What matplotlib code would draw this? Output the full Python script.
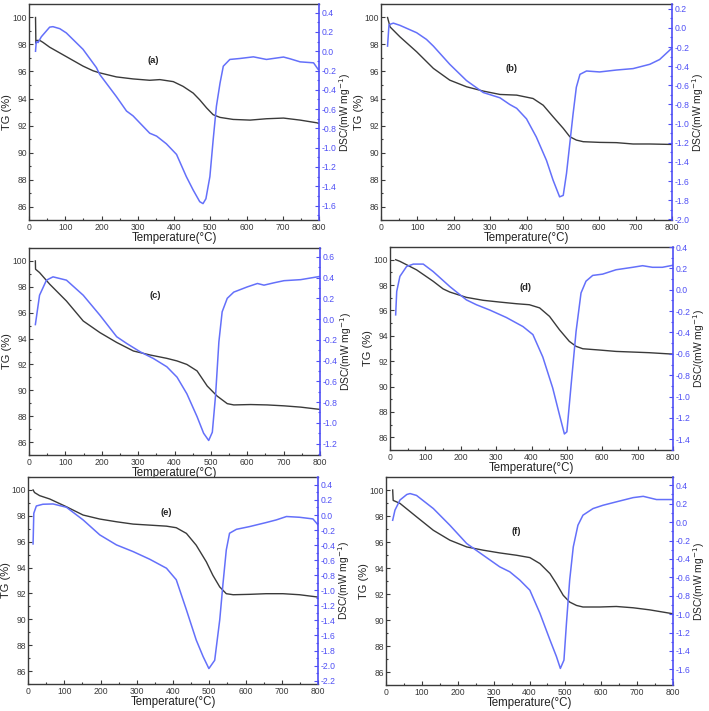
import matplotlib
matplotlib.use("Agg")
import matplotlib.pyplot as plt
from matplotlib.ticker import MultipleLocator, FormatStrFormatter

plt.rcParams['font.family'] = ['Liberation Sans', 'DejaVu Sans']
plt.rcParams['axes.unicode_minus'] = False

# ---------------- data ----------------
# Panel (a)
tg_a_T = [18, 19, 22, 30, 39, 57, 103, 149, 177, 195, 241, 287, 333, 361, 398, 425, 453, 471, 490, 508, 527, 563, 610, 655, 702, 748, 794, 800]
tg_a_v = [100.0, 98.1, 98.3, 98.3, 98.15, 97.8, 97.1, 96.4, 96.05, 95.9, 95.6, 95.45, 95.35, 95.4, 95.25, 94.9, 94.4, 93.9, 93.3, 92.8, 92.6, 92.45, 92.4, 92.5, 92.55, 92.4, 92.2, 92.15]
dsc_a_T = [18, 20, 25, 34, 57, 66, 85, 103, 149, 186, 195, 241, 269, 287, 333, 352, 379, 407, 434, 453, 471, 480, 488, 499, 508, 517, 527, 536, 554, 582, 619, 655, 702, 720, 748, 785, 798]
dsc_a_v = [0.0, 0.1, 0.09, 0.15, 0.25, 0.255, 0.234, 0.19, 0.02, -0.17, -0.24, -0.47, -0.62, -0.67, -0.85, -0.88, -0.96, -1.07, -1.30, -1.44, -1.56, -1.58, -1.53, -1.30, -0.92, -0.57, -0.33, -0.155, -0.085, -0.075, -0.058, -0.085, -0.06, -0.078, -0.11, -0.12, -0.19]

# Panel (b)
tg_b_T = [18, 25, 52, 98, 144, 189, 235, 281, 327, 373, 418, 446, 473, 501, 519, 537, 556, 601, 647, 693, 739, 794, 800]
tg_b_v = [100.0, 99.3, 98.57, 97.46, 96.23, 95.36, 94.87, 94.55, 94.3, 94.25, 94.0, 93.5, 92.65, 91.79, 91.17, 90.92, 90.8, 90.75, 90.73, 90.63, 90.63, 90.6, 90.6]
dsc_b_T = [18, 22, 34, 52, 98, 125, 144, 189, 235, 281, 327, 354, 373, 400, 427, 455, 473, 491, 501, 510, 519, 528, 537, 547, 565, 601, 647, 693, 739, 766, 800]
dsc_b_v = [-0.19, 0.034, 0.05, 0.027, -0.05, -0.12, -0.19, -0.38, -0.55, -0.675, -0.73, -0.80, -0.84, -0.95, -1.14, -1.385, -1.59, -1.765, -1.75, -1.52, -1.21, -0.90, -0.62, -0.485, -0.45, -0.46, -0.44, -0.425, -0.38, -0.33, -0.21]

# Panel (c)
tg_c_T = [17.5, 18, 29, 57, 103, 149, 195, 241, 287, 333, 379, 407, 434, 462, 490, 517, 545, 563, 609, 655, 701, 747, 798]
tg_c_v = [100.0, 99.36, 99.1, 98.2, 96.9, 95.36, 94.46, 93.7, 93.04, 92.73, 92.47, 92.27, 92.0, 91.5, 90.33, 89.56, 88.97, 88.87, 88.9, 88.87, 88.8, 88.7, 88.53]
dsc_c_T = [17.5, 29, 48, 66, 103, 149, 195, 241, 269, 306, 342, 379, 407, 434, 462, 480, 494, 504, 513, 522, 531, 545, 563, 600, 628, 646, 674, 701, 747, 798]
dsc_c_v = [-0.053, 0.23, 0.375, 0.407, 0.375, 0.23, 0.037, -0.17, -0.236, -0.316, -0.38, -0.46, -0.56, -0.72, -0.94, -1.10, -1.17, -1.09, -0.73, -0.22, 0.07, 0.2, 0.26, 0.31, 0.343, 0.327, 0.35, 0.37, 0.38, 0.41]

# Panel (d)
tg_d_T = [16, 28, 75, 122, 150, 169, 216, 263, 310, 357, 394, 423, 451, 479, 507, 526, 545, 592, 639, 686, 732, 798]
tg_d_v = [100.0, 99.87, 99.2, 98.3, 97.7, 97.45, 97.03, 96.8, 96.66, 96.53, 96.45, 96.2, 95.53, 94.48, 93.56, 93.17, 92.98, 92.88, 92.77, 92.72, 92.67, 92.56]
dsc_d_T = [16, 19, 28, 47, 66, 94, 122, 169, 216, 244, 282, 329, 376, 404, 432, 460, 479, 493, 500, 512, 526, 540, 554, 573, 601, 639, 686, 714, 742, 770, 798]
dsc_d_v = [-0.235, -0.016, 0.125, 0.218, 0.24, 0.24, 0.17, 0.03, -0.095, -0.14, -0.19, -0.26, -0.345, -0.42, -0.63, -0.92, -1.17, -1.35, -1.33, -0.89, -0.39, -0.03, 0.08, 0.134, 0.146, 0.187, 0.21, 0.225, 0.21, 0.21, 0.228]

# Panel (e)
tg_e_T = [14, 18, 32, 60, 106, 152, 198, 244, 290, 336, 382, 409, 437, 464, 492, 510, 529, 547, 566, 611, 657, 703, 749, 800]
tg_e_v = [100.0, 99.8, 99.56, 99.3, 98.7, 98.06, 97.75, 97.54, 97.36, 97.28, 97.2, 97.08, 96.64, 95.73, 94.44, 93.4, 92.5, 91.98, 91.9, 91.93, 91.98, 91.98, 91.9, 91.72]
dsc_e_T = [14, 16, 23, 41, 69, 106, 152, 198, 244, 290, 336, 382, 409, 437, 464, 483, 499, 515, 529, 538, 547, 556, 575, 611, 657, 685, 713, 749, 786, 800]
dsc_e_v = [-0.384, 0.023, 0.12, 0.143, 0.147, 0.103, -0.065, -0.264, -0.397, -0.486, -0.588, -0.707, -0.86, -1.26, -1.66, -1.88, -2.04, -1.93, -1.39, -0.907, -0.464, -0.242, -0.19, -0.154, -0.10, -0.065, -0.02, -0.03, -0.052, -0.13]

# Panel (f)
tg_f_T = [18.6, 20, 39, 85, 132, 178, 225, 271, 317, 364, 401, 429, 457, 475, 494, 512, 531, 549, 596, 642, 689, 735, 800]
tg_f_v = [100.0, 99.2, 98.97, 97.94, 96.9, 96.14, 95.62, 95.37, 95.16, 94.98, 94.8, 94.34, 93.57, 92.8, 91.9, 91.38, 91.12, 91.0, 91.0, 91.04, 90.94, 90.78, 90.48]
dsc_f_T = [18.6, 25, 39, 58, 67, 85, 132, 178, 225, 271, 317, 345, 373, 401, 429, 457, 475, 486, 496, 503, 512, 522, 535, 549, 577, 605, 642, 689, 717, 754, 800]
dsc_f_v = [0.02, 0.13, 0.24, 0.30, 0.31, 0.29, 0.147, -0.034, -0.233, -0.36, -0.486, -0.54, -0.63, -0.74, -0.99, -1.28, -1.46, -1.59, -1.50, -1.10, -0.63, -0.27, -0.034, 0.075, 0.147, 0.183, 0.22, 0.266, 0.28, 0.245, 0.245]

panel_labels = ['(a)', '(b)', '(c)', '(d)', '(e)', '(f)']
dsc_limits = [(-1.75, 0.49), (-2.007, 0.25), (-1.31, 0.685), (-1.50, 0.40), (-2.245, 0.505), (-1.77, 0.49)]
tg_limits = (85, 101)

# ---------------- layout ----------------
W, H = 709, 711
fig = plt.figure(figsize=(W / 100, H / 100), dpi=100)

# pixel boxes: left, top, right, bottom
boxes = [(29, 4, 319, 220), (381, 4, 672, 220),
         (29, 248, 320, 455), (390, 247, 673, 450),
         (28, 477, 318, 684), (386, 477, 673, 685)]
label_pos = [(0.43, 0.74), (0.45, 0.70), (0.435, 0.77), (0.48, 0.80), (0.477, 0.83), (0.455, 0.74)]

tg_data = [(tg_a_T, tg_a_v), (tg_b_T, tg_b_v), (tg_c_T, tg_c_v), (tg_d_T, tg_d_v), (tg_e_T, tg_e_v), (tg_f_T, tg_f_v)]
dsc_data = [(dsc_a_T, dsc_a_v), (dsc_b_T, dsc_b_v), (dsc_c_T, dsc_c_v), (dsc_d_T, dsc_d_v), (dsc_e_T, dsc_e_v), (dsc_f_T, dsc_f_v)]

dark = '#3a3a3a'
blue_line = '#6470fa'
blue_axis = '#4f4ff5'

for i in range(6):
    l, t, r, b = boxes[i]
    ax = fig.add_axes([l / W, 1 - b / H, (r - l) / W, (b - t) / H])
    T, v = tg_data[i]
    ax.plot(T, v, color=dark, lw=1.0)
    ax.set_xlim(0, 800)
    ax.set_ylim(*tg_limits)
    ax.xaxis.set_major_locator(MultipleLocator(100))
    ax.xaxis.set_minor_locator(MultipleLocator(50))
    ax.yaxis.set_major_locator(MultipleLocator(2))
    ax.yaxis.set_minor_locator(MultipleLocator(1))
    ax.tick_params(which='both', direction='in', colors=dark, labelsize=6.2, pad=2, width=0.8)
    ax.tick_params(axis='y', which='both', pad=1.5)
    ax.tick_params(which='major', length=3)
    ax.tick_params(which='minor', length=1.6)
    ax.tick_params(axis='y', which='both', right=False)
    ax.tick_params(axis='x', which='both', top=False)
    for s in ['left', 'bottom', 'top']:
        ax.spines[s].set_color(dark)
        ax.spines[s].set_linewidth(1.0)
    ax.spines['right'].set_visible(False)
    ax.set_xlabel('Temperature(°C)', fontsize=8.3, color='#222222', labelpad=0)
    ax.set_ylabel('TG (%)', fontsize=8, color='#222222', labelpad=0)
    ax.text(label_pos[i][0], label_pos[i][1], panel_labels[i], transform=ax.transAxes,
            fontsize=6.8, fontweight='bold', ha='center', va='center', color='#222222')

    ax2 = ax.twinx()
    T2, v2 = dsc_data[i]
    ax2.plot(T2, v2, color=blue_line, lw=1.1)
    ax2.set_ylim(*dsc_limits[i])
    ax2.set_xlim(0, 800)
    ax2.yaxis.set_major_locator(MultipleLocator(0.2))
    ax2.yaxis.set_minor_locator(MultipleLocator(0.1))
    ax2.yaxis.set_major_formatter(FormatStrFormatter('%.1f'))
    ax2.tick_params(axis='y', which='both', direction='in', colors=blue_axis, labelsize=6.2, pad=2, width=0.8)
    ax2.tick_params(axis='y', which='major', length=3)
    ax2.tick_params(axis='y', which='minor', length=1.6)
    for s in ['left', 'bottom', 'top']:
        ax2.spines[s].set_visible(False)
    ax2.spines['right'].set_color(blue_axis)
    ax2.spines['right'].set_linewidth(1.2)
    ax2.set_ylabel('DSC/(mW mg$^{-1}$)', fontsize=7.4, color='#222222', labelpad=0.5)

fig.savefig('out.png', dpi=100)
